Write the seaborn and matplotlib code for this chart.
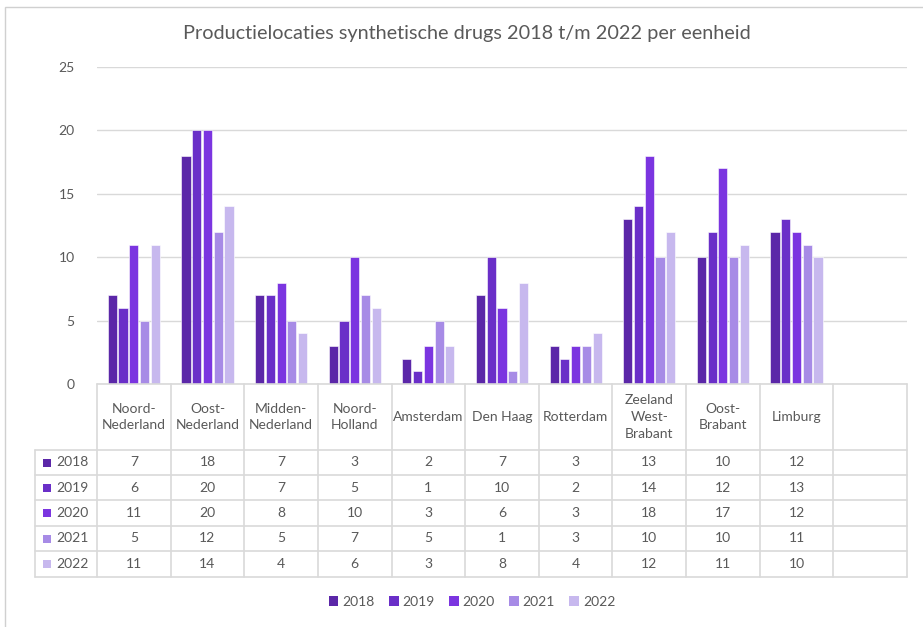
import matplotlib
matplotlib.use("Agg")
import matplotlib.pyplot as plt
import matplotlib.transforms as mtransforms
from matplotlib.patches import Rectangle
from matplotlib.lines import Line2D
import seaborn as sns
import pandas as pd

# ---- data ----
categories = ["Noord-\nNederland", "Oost-\nNederland", "Midden-\nNederland", "Noord-\nHolland",
              "Amsterdam", "Den Haag", "Rotterdam", "Zeeland\nWest-\nBrabant", "Oost-\nBrabant", "Limburg"]
years = ["2018", "2019", "2020", "2021", "2022"]
v2018 = [7, 18, 7, 3, 2, 7, 3, 13, 10, 12]
v2019 = [6, 20, 7, 5, 1, 10, 2, 14, 12, 13]
v2020 = [11, 20, 8, 10, 3, 6, 3, 18, 17, 12]
v2021 = [5, 12, 5, 7, 5, 1, 3, 10, 10, 11]
v2022 = [11, 14, 4, 6, 3, 8, 4, 12, 11, 10]
series = [v2018, v2019, v2020, v2021, v2022]
colors = ["#5B27A8", "#6A2FC8", "#7B35E0", "#A78BE6", "#C7B8EE"]
title = "Productielocaties synthetische drugs 2018 t/m 2022 per eenheid"
yticks = [0, 5, 10, 15, 20, 25]

rows = []
for y, vals in zip(years, series):
    for c, v in zip(categories, vals):
        rows.append({"cat": c, "year": y, "value": v})
df = pd.DataFrame(rows)

sns.set_theme(style="white")
plt.rcParams["font.family"] = ["Lato", "DejaVu Sans"]
textc = "#595959"
gridc = "#D9D9D9"

W, H = 923, 627
fig = plt.figure(figsize=(W / 100, H / 100), dpi=100)
fig.patch.set_facecolor("white")

ax_l, ax_r, ax_t, ax_b = 97, 907, 67, 384
ax = fig.add_axes([ax_l / W, 1 - ax_b / H, (ax_r - ax_l) / W, (ax_b - ax_t) / H])

sns.barplot(data=df, x="cat", y="value", hue="year", order=categories, hue_order=years,
            palette=colors, width=0.73, gap=0.15, ax=ax, legend=False,
            edgecolor="white", linewidth=0.4, saturation=1)

ax.set_xlim(-0.5, len(categories) + 0.5)
ax.set_ylim(0, 25)
ax.set_yticks(yticks)
ax.set_yticklabels([str(t) for t in yticks], color=textc, fontsize=10)
ax.tick_params(axis="y", length=0, pad=16)
ax.set_xticks([])
ax.set_xlabel("")
ax.set_ylabel("")
ax.grid(axis="y", color=gridc, linewidth=1)
ax.set_axisbelow(True)
for s in ax.spines.values():
    s.set_visible(False)

# title
fig.text(467 / W, 1 - 33 / H, title, ha="center", va="center", fontsize=14.3, color=textc)

# outer chart border
fig.add_artist(Rectangle((5 / W, -0.1), 1.2, 1 - 7 / H + 0.1, transform=fig.transFigure,
                         fill=False, edgecolor="#D0D0D0", linewidth=1))

# ---- data table ----
tr = mtransforms.blended_transform_factory(ax.transData, fig.transFigure)
fy = lambda p: 1 - p / H
row_y = [384, 450, 475, 500, 526, 551, 577]
n = len(categories) + 1
key_left = 35
# horizontal lines
fig.add_artist(Line2D([ax_l / W, ax_r / W], [fy(384), fy(384)], transform=fig.transFigure,
                      color=gridc, linewidth=1.2))
for yy in row_y[1:]:
    fig.add_artist(Line2D([key_left / W, ax_r / W], [fy(yy), fy(yy)], transform=fig.transFigure,
                          color=gridc, linewidth=1.2))
# vertical lines
for i in range(n + 1):
    fig.add_artist(Line2D([i - 0.5, i - 0.5], [fy(384), fy(577)], transform=tr,
                          color=gridc, linewidth=1.2, clip_on=False))
fig.add_artist(Line2D([key_left / W, key_left / W], [fy(450), fy(577)], transform=fig.transFigure,
                      color=gridc, linewidth=1.2))

# header
for i, c in enumerate(categories):
    fig.text(i, fy(417), c, transform=tr, ha="center", va="center", fontsize=10,
             color=textc, linespacing=1.45)
# rows
for r, (y, vals, col) in enumerate(zip(years, series, colors)):
    yc = (row_y[r + 1] + row_y[r + 2]) / 2
    fig.add_artist(Rectangle((43 / W, fy(yc + 4)), 8 / W, 8 / H, transform=fig.transFigure,
                             facecolor=col, edgecolor="none"))
    fig.text(56 / W, fy(yc), y, ha="left", va="center", fontsize=10, color=textc)
    for i, v in enumerate(vals):
        fig.text(i, fy(yc), str(v), transform=tr, ha="center", va="center", fontsize=10,
                 color=textc)

# legend
handles = [Rectangle((0, 0), 1, 1, facecolor=c, edgecolor="none") for c in colors]
fig.legend(handles, years, loc="center", bbox_to_anchor=(472 / W, fy(602)), ncol=5,
           frameon=False, fontsize=10, handlelength=0.7, handleheight=0.7,
           handletextpad=0.3, columnspacing=1.0, labelcolor=textc)

fig.savefig("out.png", dpi=100, facecolor="white")
